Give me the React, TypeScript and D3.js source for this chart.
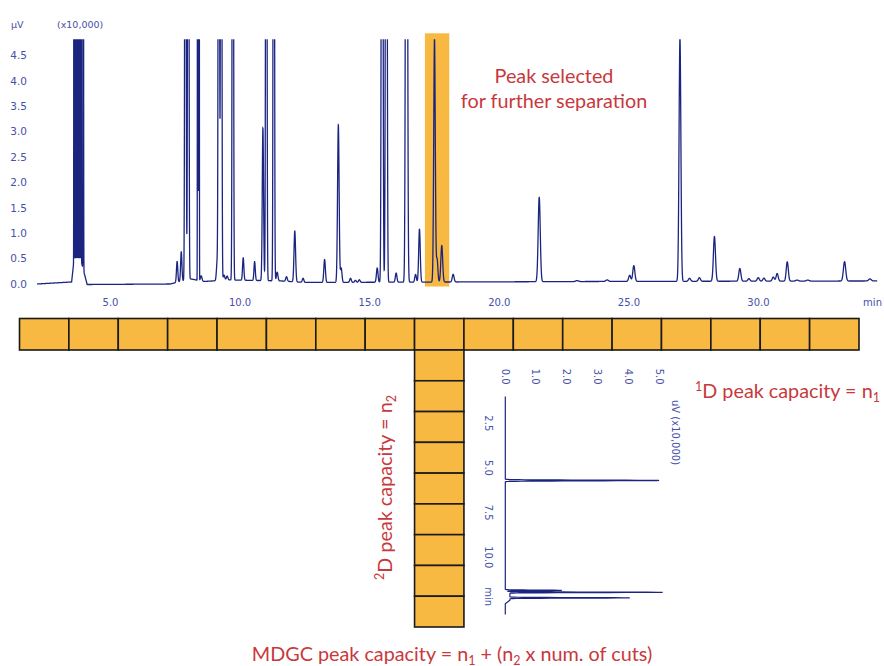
import React from "react";
import * as d3 from "d3";

// ---------- 1D chromatogram peak table (retention time [min], height [x10,000 uV], width sigma [min]) ----------
const peakTimes1D = [
  3.59, 3.625, 3.66, 3.695, 3.73, 3.765, 3.8, 3.835, 3.87, 3.95,
  7.57, 7.73, 7.89, 8.0, 8.36, 8.39, 8.42, 8.5,
  9.12, 9.18, 9.27, 9.38, 9.5, 9.72, 10.12, 10.56,
  10.88, 11.01, 11.3, 11.43, 11.79, 12.11, 12.43, 13.26, 13.79, 13.9, 14.26, 14.45, 14.6,
  15.29, 15.48, 15.64, 16.02, 16.42, 16.77, 16.92,
  17.5, 17.6, 17.78, 18.22, 21.54, 23.0, 24.16, 25.03, 25.19,
  26.97, 27.34, 27.72, 28.3, 29.28, 29.63, 29.99, 30.21, 30.57, 30.72, 31.11, 31.49, 31.9, 33.32, 34.3,
];
const peakHeights1D = [
  20, 20, 20, 20, 20, 20, 20, 20, 20, 20,
  0.41, 0.58, 20, 20, 20, 20, 20, 0.1,
  0.4, 20, 20, 0.1, 0.08, 20, 0.44, 0.37,
  3.0, 20, 20, 0.17, 0.09, 1.0, 0.08, 0.45, 3.1, 0.28, 0.08, 0.04, 0.05,
  0.28, 20, 20, 0.18, 20, 0.15, 1.04,
  4.8, 0.45, 0.72, 0.15, 1.66, 0.02, 0.03, 0.12, 0.31,
  4.78, 0.06, 0.07, 0.88, 0.25, 0.05, 0.07, 0.06, 0.08, 0.15, 0.38, 0.02, 0.02, 0.38, 0.04,
];
const peakWidths1D = [
  0.005, 0.005, 0.005, 0.005, 0.005, 0.005, 0.005, 0.005, 0.005, 0.008,
  0.025, 0.025, 0.02, 0.02, 0.006, 0.006, 0.006, 0.03,
  0.03, 0.02, 0.02, 0.03, 0.03, 0.02, 0.025, 0.025,
  0.025, 0.02, 0.02, 0.03, 0.03, 0.03, 0.03, 0.03, 0.03, 0.03, 0.03, 0.03, 0.03,
  0.03, 0.025, 0.025, 0.03, 0.03, 0.03, 0.03,
  0.03, 0.03, 0.035, 0.035, 0.04, 0.05, 0.05, 0.04, 0.04,
  0.035, 0.04, 0.04, 0.04, 0.04, 0.04, 0.04, 0.04, 0.04, 0.04, 0.04, 0.05, 0.05, 0.045, 0.05,
];
// baseline drift anchors
const baseT1D = [2.17, 3.5, 3.58, 3.88, 4.1, 7.3, 8.1, 8.6, 9.6, 11.6, 12.5, 18.5, 24, 34.58];
const baseV1D = [0.0, 0.04, 0.42, 0.42, -0.01, 0.0, 0.1, 0.05, 0.08, 0.06, 0.03, 0.04, 0.05, 0.06];
const run1D = [2.17, 34.58];

const yTicks1D = [0, 0.5, 1, 1.5, 2, 2.5, 3, 3.5, 4, 4.5];
const xTicks1D = [5, 10, 15, 20, 25, 30];
const selectedWindow = [17.13, 18.07];

// ---------- 2D chromatogram (inset) ----------
const peakTimes2D = [5.7, 11.85, 11.96, 12.27];
const peakHeights2D = [5.0, 1.8, 5.0, 3.9];
const peakWidths2D = [0.02, 0.015, 0.015, 0.015];
const baseT2D = [1.0, 11.8, 12.0, 12.4, 12.6, 13.2];
const baseV2D = [0, 0, 0.15, 0.15, 0, 0];
const run2D = [1.0, 13.2];
const vTicks2D = [0, 1, 2, 3, 4, 5];
const tTicks2D = [2.5, 5, 7.5, 10];

// ---------- peak capacity grid ----------
const nCells1D = 17;
const nCells2D = 9;
const selectedCell = 8;

const NAVY = "#1B2580";
const BLUE = "#4650A8";
const RED = "#C8383C";
const ORANGE = "#F7B942";

function buildTrace(times: number[], heights: number[], widths: number[], bT: number[], bV: number[], range: number[], step: number) {
  const base = d3.scaleLinear().domain(bT).range(bV).clamp(true);
  const pts: [number, number][] = [];
  for (let t = range[0]; t <= range[1] + 1e-9; t += step) {
    let v = base(t);
    for (let i = 0; i < times.length; i++) {
      const z = (t - times[i]) / widths[i];
      if (Math.abs(z) < 8) v += heights[i] * Math.exp(-0.5 * z * z);
    }
    pts.push([t, v]);
  }
  return pts;
}

export default function App() {
  const x1 = d3.scaleLinear().domain([5, 30]).range([110.5, 758.5]);
  const y1 = d3.scaleLinear().domain([0, 4.5]).range([284, 55.4]);
  const trace1 = buildTrace(peakTimes1D, peakHeights1D, peakWidths1D, baseT1D, baseV1D, run1D, 0.0012);
  const line1 = d3.line<[number, number]>().x((d) => x1(d[0])).y((d) => y1(d[1]));

  const vx = d3.scaleLinear().domain([0, 5]).range([505.3, 659.3]);
  const ty = d3.scaleLinear().domain([2.5, 10]).range([423.3, 557.3]);
  const trace2 = buildTrace(peakTimes2D, peakHeights2D, peakWidths2D, baseT2D, baseV2D, run2D, 0.003);
  const line2 = d3.line<[number, number]>().x((d) => vx(d[1])).y((d) => ty(d[0]));

  const cellX = d3.scaleLinear().domain([0, nCells1D]).range([19.5, 859]);
  const cellY = d3.scaleLinear().domain([0, nCells2D]).range([350, 627]);

  const tickFont = "DejaVu Sans, Verdana, sans-serif";
  const labelFont = "Lato, 'Open Sans', sans-serif";
  const LF = 19.8;

  return (
    <svg width={884} height={666} style={{ position: "absolute", left: 0, top: 0, background: "#fff" }}>
      <defs>
        <clipPath id="clip1">
          <rect x={0} y={y1(4.82)} width={884} height={300 - y1(4.82)} />
        </clipPath>
      </defs>

      {/* selected peak highlight */}
      <rect
        x={x1(selectedWindow[0])}
        y={y1(4.935)}
        width={x1(selectedWindow[1]) - x1(selectedWindow[0])}
        height={y1(-0.05) - y1(4.935)}
        fill={ORANGE}
      />

      {/* 1D trace */}
      <path d={line1(trace1) || ""} fill="none" stroke={NAVY} strokeWidth={1.3} clipPath="url(#clip1)" />

      {/* y axis labels */}
      <text x={11} y={28} fontFamily={tickFont} fontSize={9.5} fill={BLUE}>
        μV
      </text>
      <text x={57} y={28} fontFamily={tickFont} fontSize={9.5} fill={BLUE}>
        (x10,000)
      </text>
      {yTicks1D.map((v) => (
        <text key={v} x={27} y={y1(v) + 3.8} textAnchor="end" fontFamily={tickFont} fontSize={10.5} fill={BLUE}>
          {v.toFixed(1)}
        </text>
      ))}
      {xTicks1D.map((t) => (
        <text key={t} x={x1(t)} y={306} textAnchor="middle" fontFamily={tickFont} fontSize={10} fill={BLUE}>
          {t.toFixed(1)}
        </text>
      ))}
      <text x={x1(34.4)} y={306} textAnchor="middle" fontFamily={tickFont} fontSize={10} fill={BLUE}>
        min
      </text>

      {/* Peak selected label */}
      <text x={554} y={83.3} textAnchor="middle" fontFamily={labelFont} fontSize={LF} fill={RED}>
        Peak selected
      </text>
      <text x={554} y={108.3} textAnchor="middle" fontFamily={labelFont} fontSize={LF} fill={RED}>
        for further separation
      </text>

      {/* 1D cells */}
      {d3.range(nCells1D).map((i) => (
        <rect
          key={"r" + i}
          x={cellX(i)}
          y={318.5}
          width={cellX(i + 1) - cellX(i)}
          height={31.5}
          fill={ORANGE}
          stroke="#1a1a1a"
          strokeWidth={1.6}
        />
      ))}
      {/* 2D cells */}
      {d3.range(nCells2D).map((j) => (
        <rect
          key={"c" + j}
          x={cellX(selectedCell)}
          y={cellY(j)}
          width={cellX(selectedCell + 1) - cellX(selectedCell)}
          height={cellY(j + 1) - cellY(j)}
          fill={ORANGE}
          stroke="#1a1a1a"
          strokeWidth={1.6}
        />
      ))}

      {/* inset 2D chromatogram */}
      <path d={line2(trace2) || ""} fill="none" stroke={NAVY} strokeWidth={1.2} />
      {vTicks2D.map((v) => (
        <text
          key={"v" + v}
          transform={`translate(${vx(v)},376.7) rotate(90)`}
          textAnchor="middle"
          dy={3.6}
          fontFamily={tickFont}
          fontSize={10}
          fill={BLUE}
        >
          {v.toFixed(1)}
        </text>
      ))}
      {tTicks2D.map((t) => (
        <text
          key={"t" + t}
          transform={`translate(488.3,${ty(t)}) rotate(90)`}
          textAnchor="middle"
          dy={3.6}
          fontFamily={tickFont}
          fontSize={10}
          fill={BLUE}
        >
          {t.toFixed(1)}
        </text>
      ))}
      <text transform={`translate(488.3,${ty(12.2)}) rotate(90)`} textAnchor="middle" dy={3.6} fontFamily={tickFont} fontSize={10} fill={BLUE}>
        min
      </text>
      <text transform={`translate(676,400) rotate(90)`} textAnchor="start" dy={3.6} fontFamily={tickFont} fontSize={10} fill={BLUE}>
        uV  (x10,000)
      </text>

      {/* capacity labels */}
      <text x={695} y={398.3} fontFamily={labelFont} fontSize={LF} fill={RED}>
        <tspan fontSize={12.5} dy={-7.5}>1</tspan>
        <tspan dy={7.5}>D peak capacity = n</tspan>
        <tspan fontSize={12.5} dy={4}>1</tspan>
      </text>
      <text transform="translate(391.7,580) rotate(-90)" fontFamily={labelFont} fontSize={LF} fill={RED}>
        <tspan fontSize={12.5} dy={-7.5}>2</tspan>
        <tspan dy={7.5}>D peak capacity = n</tspan>
        <tspan fontSize={12.5} dy={4}>2</tspan>
      </text>
      <text x={452} y={660.5} textAnchor="middle" fontFamily={labelFont} fontSize={LF} fill={RED}>
        <tspan>MDGC peak capacity = n</tspan>
        <tspan fontSize={12.5} dy={4}>1</tspan>
        <tspan dy={-4}> + (n</tspan>
        <tspan fontSize={12.5} dy={4}>2</tspan>
        <tspan dy={-4}> x num. of cuts)</tspan>
      </text>
    </svg>
  );
}
